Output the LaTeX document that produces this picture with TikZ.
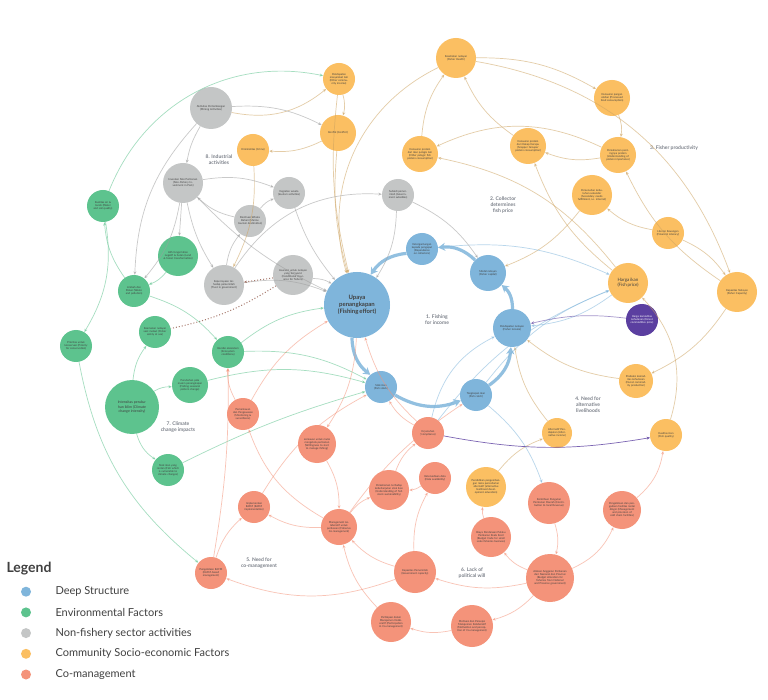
\documentclass[tikz,border=0pt]{standalone}
\usepackage{fontspec}
\setmainfont{Lato}
\usetikzlibrary{arrows.meta}
\definecolor{cb}{HTML}{7FB5DB}
\definecolor{cg}{HTML}{5DC38E}
\definecolor{cy}{HTML}{C4C6C6}
\definecolor{co}{HTML}{FBBF62}
\definecolor{cr}{HTML}{F4937A}
\definecolor{cp}{HTML}{5B3FA0}
\definecolor{lab}{HTML}{7A7F88}
\tikzset{
 cn/.style={circle,draw=none,align=center,inner sep=0pt,font=\fontsize{2.7}{3.1}\selectfont,text=black!75},
 e/.style={-{Stealth[length=3.5pt,width=3pt]},line width=0.7pt,opacity=0.55,bend left=15},
 thick cycle/.style={-{Stealth[length=7pt,width=8pt]},line width=3.2pt,draw=cb!85,bend right=25},
 sec/.style={font=\fontsize{5}{6}\selectfont\bfseries,text=lab,align=center},
}
\begin{document}
\begin{tikzpicture}[x=1pt,y=-1pt]
\useasboundingbox[fill=white] (0,0) rectangle (768,700);
% ---- nodes
\def\N#1#2#3#4#5#6{\node[cn,fill=#2,minimum size=#5*2pt,text width=#5*1.5pt] (#1) at (#3,#4) {#6};}
% blue
\N{effort}{cb}{357}{305}{33}{\fontsize{6}{7}\selectfont\bfseries Upaya penangkapan\\(Fishing effort)}
\N{depend}{cb}{422}{249}{16}{Ketergantungan kepada pengepul (Dependence on collectors)}
\N{capital}{cb}{488}{273}{18}{Modal nelayan (Fisher capital)}
\N{income}{cb}{512}{328}{19}{Pendapatan nelayan (Fisher income)}
\N{stock}{cb}{381}{387}{16}{Stok ikan (Fish stock)}
\N{catch}{cb}{476}{395}{16}{Tangkapan ikan (Fish catch)}
\node[cn,fill=cp,minimum size=32pt,text width=24pt,text=white] (fprice) at (642,320) {Harga komoditas kehutanan (Forest commodities price)};
% orange
\N{health}{co}{456}{58}{20}{Kesehatan nelayan (Fisher Health)}
\N{oincome}{co}{339}{79}{16}{Pendapatan masyarakat lain (Other community income)}
\N{conflict}{co}{338}{133}{18}{Konflik (Conflict)}
\N{crime}{co}{253}{150}{16}{Kriminalitas (Crime)}
\N{pelagic}{co}{420}{154}{18}{Konsumsi protein dari ikan pelagis lain (Other pelagic fish protein consumption)}
\N{snapper}{co}{528}{146}{18}{Konsumsi protein dari Kakap Kerapu (Snapper Grouper protein consumption)}
\N{processed}{co}{612}{98}{18}{Konsumsi pangan olahan (Processed food consumption)}
\N{underst}{co}{618}{155}{18}{Pemahaman pentingnya protein (Understanding of protein importance)}
\N{second}{co}{592}{195}{20}{Pemenuhan kebutuhan sekunder (Secondary needs fulfillment, i.e. internet)}
\N{literacy}{co}{668}{233}{16}{Literasi Keuangan (Financial Literacy)}
\N{price}{co}{628}{283}{20}{\fontsize{4.5}{5.5}\selectfont Harga ikan\\(Fish price)}
\N{fcap}{co}{737}{292}{20}{Kapasitas Nelayan (Fisher Capacity)}
\N{fprod}{co}{636}{381}{17}{Produksi komoditas kehutanan (Forest commodity production)}
\N{altinc}{co}{557}{433}{15}{Alternatif Pendapatan (Alternative income)}
\N{quality}{co}{666}{435}{16}{Kualitas ikan (Fish quality)}
\N{edu}{co}{486}{487}{20}{Pendidikan pengembangan mata pencaharian alternatif (alternative livelihood development education)}
% grey
\N{mining}{cy}{211}{108}{21}{Aktivitas Pertambangan (Mining Activities)}
\N{invest}{cy}{183}{183}{20}{Investasi Non Perikanan (Non-Fishery Investment in Park)}
\N{tourism}{cy}{289}{193}{16}{Kegiatan wisata (tourism activities)}
\N{dest}{cy}{250}{221}{16}{Destinasi Wisata Bahari (Marine tourism destination)}
\N{subsidy}{cy}{398}{195}{16}{Subsidi pemerintah (Government subsidies)}
\N{insur}{cy}{293}{275}{20}{Asuransi untuk nelayan yang bersyarat (Conditional Insurance for fishers)}
\N{trust}{cy}{224}{285}{20}{Kepercayaan terhadap pemerintah (Trust in government)}
% green
\N{water}{cg}{103}{206}{16}{Kualitas air \& tanah (Water and soil quality)}
\N{land}{cg}{178}{256}{20}{Alih fungsi lahan negatif \& hutan (Land \& forest transformation)}
\N{waste}{cg}{134}{291}{16}{Limbah dan Polusi (Waste and pollution)}
\N{priority}{cg}{76}{346}{16}{Prioritas untuk konservasi (Priority for conservation)}
\N{safety}{cg}{155}{332}{16}{Keamanan nelayan saat melaut (Fisher safety at sea)}
\N{eco}{cg}{228}{352}{16}{Kondisi ekosistem (Ecosystem conditions)}
\N{climate}{cg}{132}{407}{27}{\fontsize{3.6}{4.2}\selectfont Intensitas perubahan iklim (Climate change intensity)}
\N{season}{cg}{190}{385}{18}{Perubahan pola musim penangkapan (Fishing seasonal pattern change)}
\N{vuln}{cg}{168}{470}{16}{Stok ikan yang rentan (Fish which is vulnerable to climate changes)}
% red
\N{monit}{cr}{243}{414}{16}{Pemantauan dan Pengawasan (Monitoring \& surveillance)}
\N{will}{cr}{317}{444}{19}{Kemauan untuk mulai mengelola perikanan (Willingness to start to manage fishing)}
\N{compl}{cr}{428}{433}{16}{Kepatuhan (Compliance)}
\N{ustock}{cr}{389}{490}{20}{Pemahaman terhadap keberlanjutan stok ikan (Understanding of fish stock sustainability)}
\N{data}{cr}{435}{478}{16}{Ketersediaan data (Data availability)}
\N{eafmi}{cr}{254}{507}{16}{Implementasi EAFM (EAFM implementation)}
\N{comgmt}{cr}{339}{527}{18}{Management kolaboratif untuk perikanan (Fisheries Co-management)}
\N{contrib}{cr}{549}{503}{21}{Kontribusi Pungutan Perikanan Daerah (Contribution to local Revenue)}
\N{budget}{cr}{491}{537}{20}{Biaya Pendanaan Pelaku Perikanan Skala Kecil (Budget Code for small scale fisheries business)}
\N{cold}{cr}{622}{510}{19}{Pengelolaan dan pengadaan fasilitas rantai dingin (Management and provision of cold chain facilities)}
\N{eafmm}{cr}{211}{573}{16}{Pengelolaan EAFM (EAFM-based management)}
\N{govcap}{cr}{415}{572}{21}{Kapasitas Pemerintah (Government capacity)}
\N{alloc}{cr}{550}{578}{24}{Alokasi Anggaran Perikanan dari Nasional dan Provinsi (Budget allocation for fisheries from National and Province government)}
\N{partic}{cr}{391}{622}{20}{Partisipasi dalam Manajemen Kolaboratif (Participation in Co-management)}
\N{motiv}{cr}{472}{626}{21}{Motivasi dan Persepsi Manajemen Kolaboratif (Motivation and perception of Co-management)}
% ---- section labels
\node[sec] (s8) at (219,160) {8. Industrial\\activities};
\node[sec] (s2) at (503,205) {2. Collector\\determines\\fish price};
\node[sec] (s3) at (674,148) {3. Fisher productivity};
\node[sec] (s1) at (437,320) {1. Fishing\\for income};
\node[sec] (s4) at (588,405) {4. Need for\\alternative\\livelihoods};
\node[sec] (s7) at (178,427) {7. Climate\\change impacts};
\node[sec] (s5) at (259,563) {5. Need for\\co-management};
\node[sec] (s6) at (472,573) {6. Lack of\\political will};
% ---- thick cycle
\draw[thick cycle] (effort) to (stock);
\draw[thick cycle] (stock) to (catch);
\draw[thick cycle] (catch) to (income);
\draw[thick cycle] (income) to (capital);
\draw[thick cycle] (capital) to (depend);
\draw[thick cycle] (depend) to (effort);
% ---- thin edges
\begin{scope}[every path/.style={e,draw=co!80!black!90}]
\draw[bend left=30] (health) to (fcap);
\draw (health) to (processed);
\draw (oincome) to (conflict);
\draw (conflict) to (crime);
\draw[bend right=10] (conflict) to (effort);
\draw[bend right=10] (oincome) to (effort);
\draw (pelagic) to (health);
\draw (snapper) to (health);
\draw (processed) to (underst);
\draw (underst) to (snapper);
\draw[bend right=25] (underst) to (pelagic);
\draw (second) to (capital);
\draw (literacy) to (second);
\draw (literacy) to (fcap);
\draw (fcap) to (underst);
\draw (price) to (snapper);
\draw[bend right=20] (price) to (pelagic);
\draw (fprod) to (income);
\draw (fcap) to (fprod);
\draw[bend right=30] (quality) to (price);
\draw (altinc) to (income);
\draw (edu) to (altinc);
\draw (crime) to (trust);
\draw[bend right=40] (health) to (effort);
\draw[bend right=25] (mining) to (oincome);
\end{scope}
\begin{scope}[every path/.style={e,draw=cb}]
\draw (depend) to (price);
\draw (catch) to (price);
\draw (price) to (income);
\draw (compl) to (price);
\draw (catch) to (contrib);
\draw[bend left=25] (compl) to (income);
\end{scope}
\begin{scope}[every path/.style={e,draw=cp}]
\draw[bend right=10] (fprice) to (income);
\draw[bend right=10,opacity=0.8] (compl) to (quality);
\end{scope}
\begin{scope}[every path/.style={e,draw=cy!80!black}]
\draw (mining) to (conflict);
\draw[bend right=10] (mining) to (invest);
\draw[bend right=20] (mining) to (waste);
\draw (invest) to (tourism);
\draw[bend left=0] (invest) to (land);
\draw (invest) to (waste);
\draw[bend right=10] (invest) to (trust);
\draw (dest) to (tourism);
\draw (dest) to (invest);
\draw (trust) to (dest);
\draw[bend right=10] (tourism) to (effort);
\draw (subsidy) to (effort);
\draw (subsidy) to (capital);
\draw (insur) to (effort);
\draw (trust) to (effort);
\draw[bend right=10] (invest) to (effort);
\draw[bend left=30] (trust) to (subsidy);
\end{scope}
\draw[dotted,line width=1pt,draw=cr!60!black,opacity=0.8,-{Stealth[length=3pt]}] (insur) to (trust);
\draw[dotted,line width=1pt,draw=cr!60!black,opacity=0.8] (insur) to[bend left=10] (safety);
\begin{scope}[every path/.style={e,draw=cg}]
\draw[bend left=40] (water) to (oincome);
\draw (land) to (waste);
\draw (waste) to (water);
\draw (waste) to (eco);
\draw[bend right=20] (priority) to (eafmm);
\draw (climate) to (safety);
\draw (climate) to (season);
\draw[bend right=20] (climate) to (vuln);
\draw (season) to (stock);
\draw[bend left=5] (vuln) to (stock);
\draw (eco) to (stock);
\draw (eco) to (effort);
\draw[bend left=20] (water) to (priority);
\end{scope}
\begin{scope}[every path/.style={e,draw=cr}]
\draw (monit) to (eco);
\draw (monit) to (effort);
\draw (effort) to (will);
\draw (will) to (comgmt);
\draw (compl) to (effort);
\draw (compl) to (stock);
\draw (ustock) to (compl);
\draw (data) to (ustock);
\draw (eafmi) to (stock);
\draw (comgmt) to (eafmi);
\draw (comgmt) to (ustock);
\draw[bend left=20] (comgmt) to (monit);
\draw (eafmm) to (eafmi);
\draw[bend right=5] (eafmm) to (eco);
\draw (contrib) to (alloc);
\draw (alloc) to (budget);
\draw (alloc) to (govcap);
\draw[bend right=20] (alloc) to (cold);
\draw (alloc) to (motiv);
\draw[bend right=20] (cold) to (quality);
\draw (budget) to (edu);
\draw (govcap) to (data);
\draw (govcap) to (comgmt);
\draw[bend left=20] (govcap) to (eafmm);
\draw (motiv) to (partic);
\draw (partic) to (comgmt);
\draw[bend left=10] (comgmt) to (catch);
\end{scope}
% ---- legend
\node[anchor=west,font=\fontsize{14}{16}\selectfont\bfseries,text=black!75] (lg) at (3,569) {Legend};
\foreach \c/\t [count=\i] in {cb/Deep Structure,cg/Environmental Factors,cy/Non-fishery sector activities,co/Community Socio-economic Factors,cr/Co-management}{
 \node[circle,fill=\c,minimum size=10pt,inner sep=0pt] (ld\i) at (26,571+\i*20.7) {};
 \node[anchor=west,font=\fontsize{11}{13}\selectfont,text=black!75] (lt\i) at (52,571+\i*20.7) {\t};
}
\end{tikzpicture}
\end{document}
